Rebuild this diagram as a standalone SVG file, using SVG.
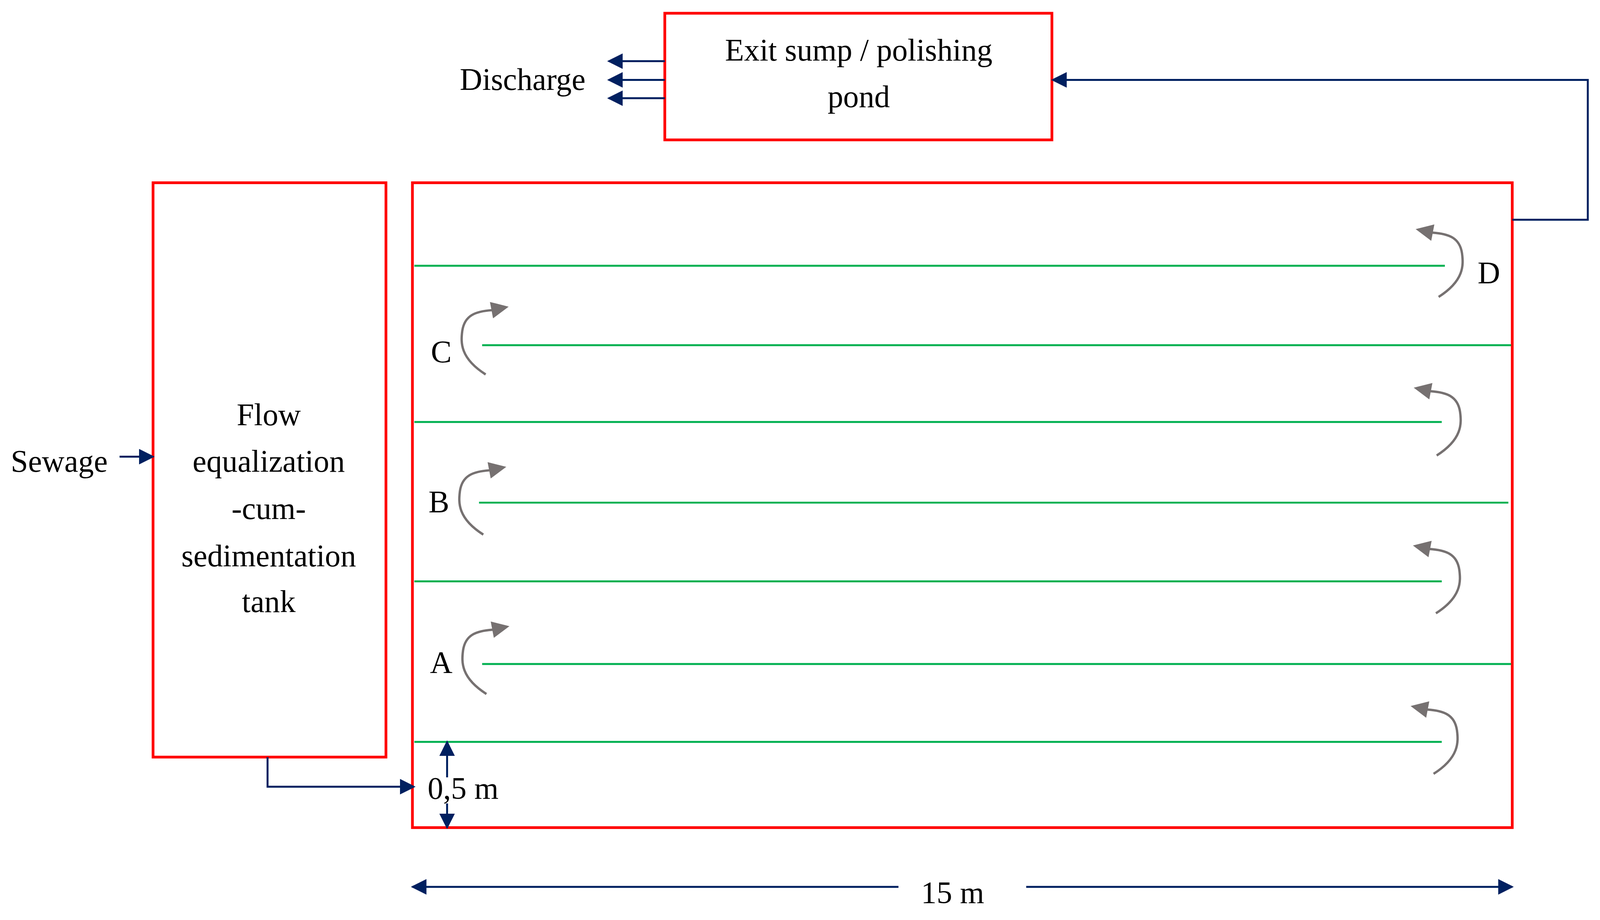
<svg xmlns="http://www.w3.org/2000/svg" xmlns:xlink="http://www.w3.org/1999/xlink" width="4098" height="2354" viewBox="0 0 4098 2354">
<style>
.box{fill:#fff;stroke:#ff0000;stroke-width:7}
.green{stroke:#00b050;stroke-width:5;fill:none}
.navy{stroke:#002060;stroke-width:5;fill:none}
.t{font-family:"Liberation Serif",serif;font-size:80px;fill:#000}
.c{text-anchor:middle}
.curl{stroke:#767171;stroke-width:6;fill:none}
</style>
<defs>
<marker id="ah" viewBox="0 0 10 10" refX="9" refY="5" markerWidth="40" markerHeight="40" markerUnits="userSpaceOnUse" orient="auto"><path d="M0,0 L10,5 L0,10 z" fill="#002060"/></marker>
<g id="curlR">
<path class="curl" d="M59,174 C125,132 123,92 119,62 C113,22 85,12 43,9"/>
<polygon points="0,0 48,-12 40,30" fill="#767171"/>
</g>
</defs>
<g transform="scale(0.997)">
<g id="exit"><rect class="box" x="1707" y="34" width="994" height="325"/>
<text class="t c" x="2205" y="155">Exit sump / polishing</text>
<text class="t c" x="2205" y="275">pond</text></g>
<g id="discharge"><text class="t c" x="1342" y="231">Discharge</text></g>
<g id="sewage"><text class="t c" x="152" y="1211">Sewage</text></g>
<g id="eq"><rect class="box" x="393" y="469" width="598" height="1474"/>
<text class="t c" x="690" y="1091">Flow</text>
<text class="t c" x="690" y="1211">equalization</text>
<text class="t c" x="690" y="1332">-cum-</text>
<text class="t c" x="690" y="1453">sedimentation</text>
<text class="t c" x="690" y="1571">tank</text></g>
<g id="tank"><rect class="box" x="1059" y="469" width="2824" height="1655"/>
<line class="green" x1="1064" y1="682" x2="3710" y2="682"/>
<line class="green" x1="1238" y1="886" x2="3880" y2="886"/>
<line class="green" x1="1064" y1="1083" x2="3702" y2="1083" stroke-width="7"/>
<line class="green" x1="1230" y1="1290" x2="3873" y2="1290"/>
<line class="green" x1="1064" y1="1492" x2="3702" y2="1492"/>
<line class="green" x1="1238" y1="1704" x2="3880" y2="1704"/>
<line class="green" x1="1064" y1="1904" x2="3702" y2="1904"/>
<use xlink:href="#curlR" transform="translate(3635,588)"/>
<use xlink:href="#curlR" transform="translate(3630,995)"/>
<use xlink:href="#curlR" transform="translate(3628,1400)"/>
<use xlink:href="#curlR" transform="translate(3622,1812)"/>
<use xlink:href="#curlR" transform="translate(1306,787) scale(-1,1)"/>
<use xlink:href="#curlR" transform="translate(1300,1198) scale(-1,1)"/>
<use xlink:href="#curlR" transform="translate(1308,1607) scale(-1,1)"/>
<text class="t c" x="3823" y="727">D</text>
<text class="t c" x="1133" y="930">C</text>
<text class="t c" x="1127" y="1315">B</text>
<text class="t c" x="1133" y="1727">A</text>
<text class="t" x="1098" y="2050">0,5 m</text>
<text class="t c" x="2446" y="2318">15 m</text></g>
<g id="connectors">
<line class="navy" x1="1707" y1="157" x2="1563" y2="157" stroke-width="3" marker-end="url(#ah)"/>
<line class="navy" x1="1707" y1="205" x2="1563" y2="205" stroke-width="3" marker-end="url(#ah)"/>
<line class="navy" x1="1707" y1="252" x2="1563" y2="252" stroke-width="3" marker-end="url(#ah)"/>
<polyline class="navy" points="3883,564 4077,564 4077,205 2703,205" stroke-width="4" marker-end="url(#ah)"/>
<line class="navy" x1="307" y1="1172" x2="393" y2="1172" stroke-width="4" marker-end="url(#ah)"/>
<polyline class="navy" points="687,1943 687,2019 1063,2019" stroke-width="6" marker-end="url(#ah)"/>
<line class="navy" x1="1148" y1="1995" x2="1148" y2="1904" stroke-width="4" marker-end="url(#ah)"/>
<line class="navy" x1="1148" y1="2062" x2="1148" y2="2124" stroke-width="4" marker-end="url(#ah)"/>
<line class="navy" x1="2307" y1="2276" x2="1059" y2="2276" stroke-width="4" marker-end="url(#ah)"/>
<line class="navy" x1="2635" y1="2276" x2="3883" y2="2276" stroke-width="4" marker-end="url(#ah)"/>
</g>
</g>
</svg>
